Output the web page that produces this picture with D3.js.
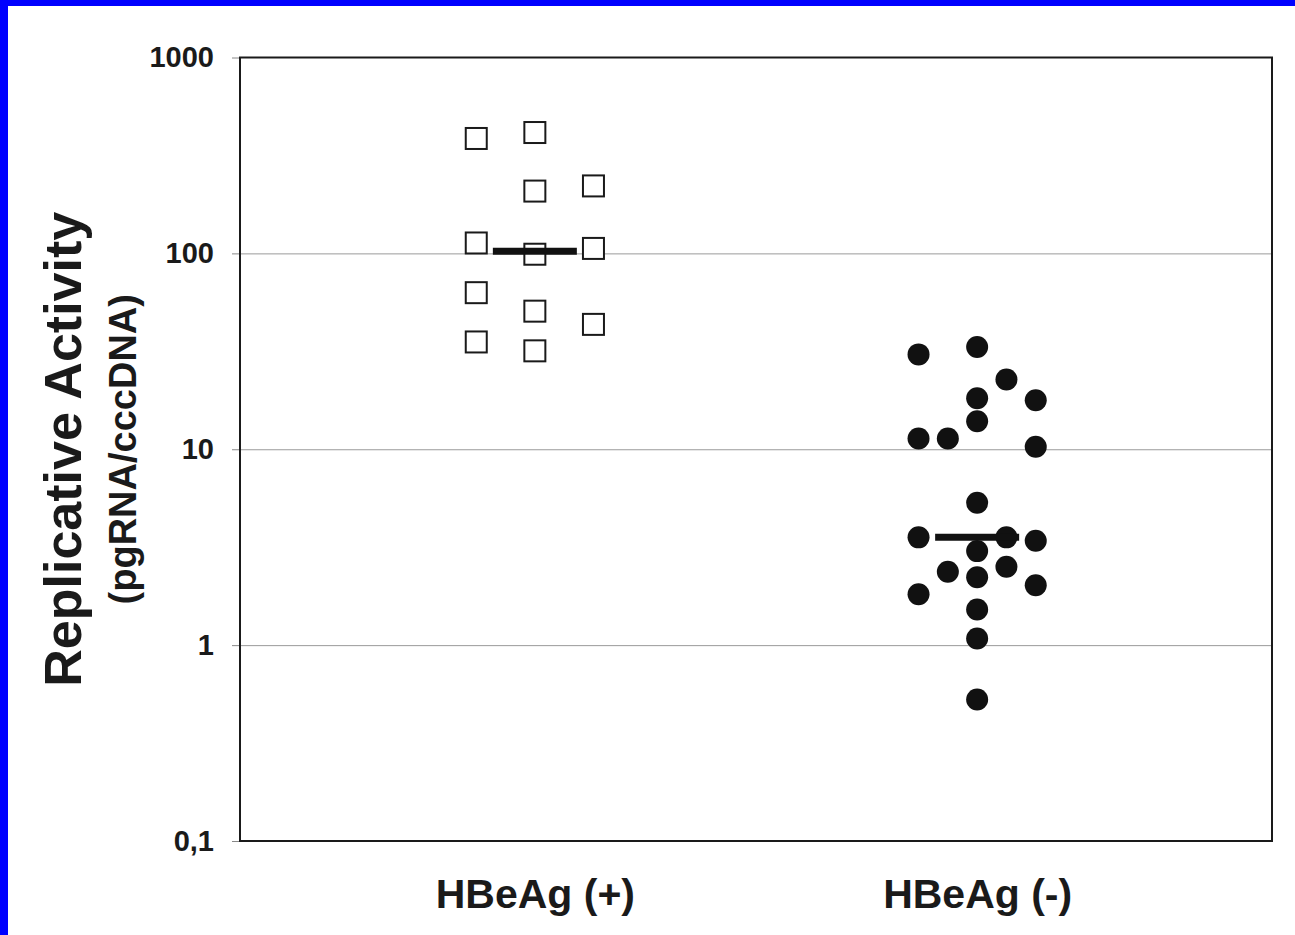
<!DOCTYPE html>
<html>
<head>
<meta charset="utf-8">
<script src="https://cdn.jsdelivr.net/npm/d3@7"></script>
<style>
  html, body { margin: 0; padding: 0; background: #fff; }
  svg { display: block; }
  text { font-family: "Liberation Sans", Arial, sans-serif; font-weight: bold; fill: #1a1a1a; }
</style>
</head>
<body>
<svg id="chart" width="1295" height="935"></svg>
<script>
// Groups on the x axis
const categories = ["HBeAg (+)", "HBeAg (-)"];

// Replicative activity (pgRNA/cccDNA) per patient, HBeAg-positive group
const posValues = [386, 113, 63, 35.3, 414, 208, 99, 50.7, 31.8, 221, 106, 43.4];
// Column slot of each point inside its group (-2 .. 2)
const posSlots  = [-2, -2, -2, -2, 0, 0, 0, 0, 0, 2, 2, 2];

// HBeAg-negative group
const negValues = [30.5, 33.3, 22.7, 18.2, 17.8, 13.9, 11.35, 11.35, 10.3, 5.33,
                   3.55, 3.55, 3.41, 3.02, 2.37, 2.51, 2.22, 1.82, 2.02, 1.52, 1.08, 0.528];
const negSlots  = [-2, 0, 1, 0, 2, 0, -2, -1, 2, 0,
                   -2, 1, 2, 0, -1, 1, 0, -2, 2, 0, 0, 0];

// Log axis ticks and their printed labels (decimal comma)
const yTicks = [0.1, 1, 10, 100, 1000];
const yTickLabels = ["0,1", "1", "10", "100", "1000"];

const yTitle = "Replicative Activity";
const ySubtitle = "(pgRNA/cccDNA)";

// ---- layout ----
const W = 1295, H = 935;
const plot = { left: 240, right: 1272, top: 57.5, bottom: 841 };
const slotStep = 29.3;
const medianHalf = 42;

const svg = d3.select("#chart");

// blue page edge
svg.append("rect").attr("x", 0).attr("y", 0).attr("width", W).attr("height", 6).attr("fill", "#0000ff");
svg.append("rect").attr("x", 0).attr("y", 0).attr("width", 8).attr("height", H).attr("fill", "#0000ff");

const y = d3.scaleLog().domain([0.1, 1000]).range([plot.bottom, plot.top]);
const x = d3.scalePoint().domain(categories).range([plot.left, plot.right]).padding(2 / 3);

// horizontal gridlines
const grid = svg.append("g")
  .attr("transform", `translate(${plot.left},0)`)
  .call(d3.axisLeft(y).tickValues(yTicks.slice(1, -1)).tickSize(-(plot.right - plot.left)).tickFormat(""));
grid.select(".domain").remove();
grid.selectAll("line").attr("stroke", "#9a9a9a").attr("stroke-width", 1);

// y axis with ticks and labels
const yAxis = svg.append("g")
  .attr("transform", `translate(${plot.left},0)`)
  .call(d3.axisLeft(y).tickValues(yTicks).tickSize(8).tickPadding(18)
    .tickFormat((d, i) => yTickLabels[i]));
yAxis.select(".domain").remove();
yAxis.selectAll("line").attr("stroke", "#888").attr("stroke-width", 1);
yAxis.selectAll("text").attr("font-size", 29).attr("fill", "#1a1a1a")
  .style("font-family", '"Liberation Sans", Arial, sans-serif').style("font-weight", "bold");

// plot frame
svg.append("rect")
  .attr("x", plot.left).attr("y", plot.top)
  .attr("width", plot.right - plot.left).attr("height", plot.bottom - plot.top)
  .attr("fill", "none").attr("stroke", "#1a1a1a").attr("stroke-width", 2);

// category labels
const xAxis = svg.append("g")
  .attr("transform", `translate(0,${plot.bottom})`)
  .call(d3.axisBottom(x).tickSize(0));
xAxis.select(".domain").remove();
xAxis.selectAll("text").attr("y", 67).attr("dy", 0).attr("font-size", 41).attr("fill", "#1a1a1a")
  .style("font-family", '"Liberation Sans", Arial, sans-serif').style("font-weight", "bold");

// HBeAg (+): open squares
const sq = 21;
const posData = posValues.map((v, i) => ({ v, s: posSlots[i] }));
svg.append("g").selectAll("rect").data(posData).join("rect")
  .attr("x", d => x(categories[0]) + d.s * slotStep - sq / 2)
  .attr("y", d => y(d.v) - sq / 2)
  .attr("width", sq).attr("height", sq)
  .attr("fill", "#fff").attr("stroke", "#1a1a1a").attr("stroke-width", 2);

// HBeAg (-): filled circles
const negData = negValues.map((v, i) => ({ v, s: negSlots[i] }));
svg.append("g").selectAll("circle").data(negData).join("circle")
  .attr("cx", d => x(categories[1]) + d.s * slotStep)
  .attr("cy", d => y(d.v))
  .attr("r", 11)
  .attr("fill", "#111");

// median bars
const medians = [d3.median(posValues), d3.median(negValues)];
svg.append("g").selectAll("line").data(medians).join("line")
  .attr("x1", (d, i) => x(categories[i]) - medianHalf)
  .attr("x2", (d, i) => x(categories[i]) + medianHalf)
  .attr("y1", d => y(d)).attr("y2", d => y(d))
  .attr("stroke", "#111").attr("stroke-width", 7);

// y axis title
const cy = (plot.top + plot.bottom) / 2;
svg.append("text")
  .attr("transform", `translate(81,${cy}) rotate(-90)`)
  .attr("text-anchor", "middle").attr("font-size", 52)
  .text(yTitle);
svg.append("text")
  .attr("transform", `translate(136,${cy}) rotate(-90)`)
  .attr("text-anchor", "middle").attr("font-size", 38)
  .text(ySubtitle);
</script>
</body>
</html>
